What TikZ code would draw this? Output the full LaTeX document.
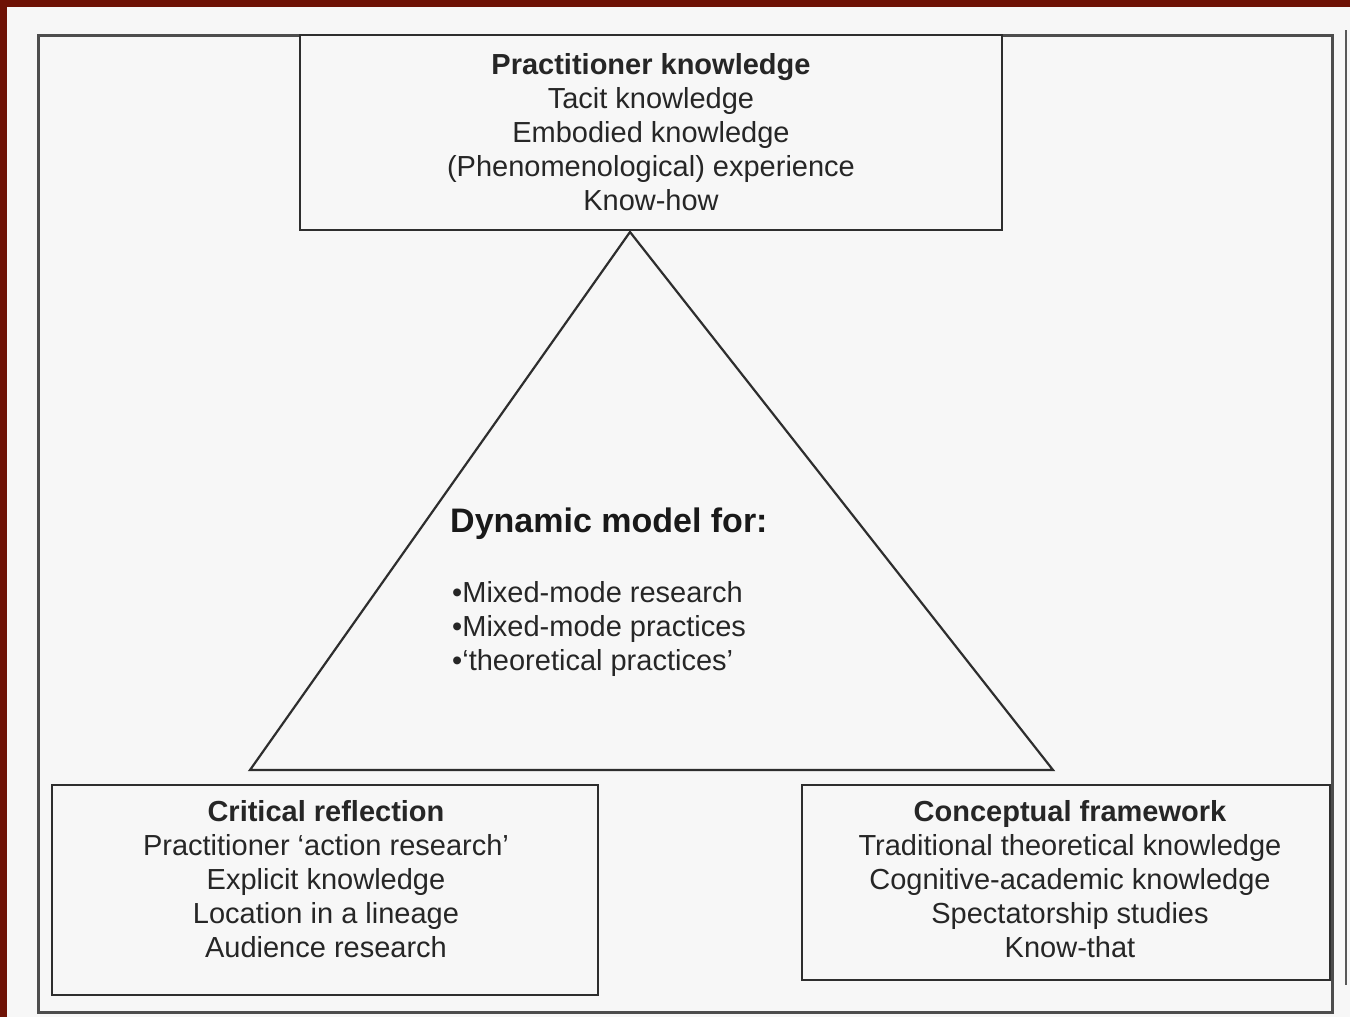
\documentclass[tikz,border=0pt]{standalone}
\usepackage{fontspec}
\setmainfont{Liberation Sans}
\definecolor{maroon}{HTML}{6E1205}
\definecolor{bgc}{HTML}{F7F7F7}
\definecolor{frame}{HTML}{2E2E2E}
\begin{document}
\begin{tikzpicture}[x=1pt,y=-1pt,
  boxst/.style={draw=frame,line width=2.8pt,rectangle,inner sep=0pt},
  txt/.style={font=\fontsize{29}{34}\selectfont,align=center,text=black!85,inner sep=0pt},
  bul/.style={anchor=base west,inner sep=0pt,font=\fontsize{29}{34}\selectfont,text=black!85},
  edge/.style={draw=frame,line width=2.2pt}]
\useasboundingbox (0,0) rectangle (1350,1017);
\fill[bgc] (0,0) rectangle (1350,1017);
\fill[maroon] (0,0) rectangle (1350,7);
\fill[maroon] (0,0) rectangle (7,1017);
% outer frame
\draw[draw=frame!85,line width=3pt] (38,35) -- (1332,35) -- (1332,1012) -- (38,1012) -- cycle;
\draw[draw=frame!80,line width=2.2pt] (1346,30) -- (1346,985);
% boxes
\node[boxst,fill=bgc,minimum width=702pt,minimum height=195pt] (top) at (651,132.5) {};
\node[boxst,fill=bgc,minimum width=546pt,minimum height=210pt] (left) at (325,890) {};
\node[boxst,fill=bgc,minimum width=528pt,minimum height=195pt] (right) at (1066,882.5) {};
% texts
\node[txt] (toptxt) at (651,132) {\textbf{Practitioner knowledge}\\Tacit knowledge\\Embodied knowledge\\(Phenomenological) experience\\Know-how};
\node[txt] (lefttxt) at (326,879) {\textbf{Critical reflection}\\Practitioner ‘action research’\\Explicit knowledge\\Location in a lineage\\Audience research};
\node[txt] (righttxt) at (1070,879) {\textbf{Conceptual framework}\\Traditional theoretical knowledge\\Cognitive-academic knowledge\\Spectatorship studies\\Know-that};
% triangle
\coordinate (apex) at (630,232);
\coordinate (bl) at (250,770);
\coordinate (br) at (1053,770);
\draw[edge,line join=miter] (apex) -- (br) -- (bl) -- cycle;
\node[anchor=base west,inner sep=0pt,font=\fontsize{34}{40}\selectfont\bfseries,text=black!90] (dyn) at (450,532) {Dynamic model for:};
\node[bul] (b1) at (452,602) {•Mixed-mode research};
\node[bul] (b2) at (452,636) {•Mixed-mode practices};
\node[bul] (b3) at (452,670) {•‘theoretical practices’};
\end{tikzpicture}
\end{document}
